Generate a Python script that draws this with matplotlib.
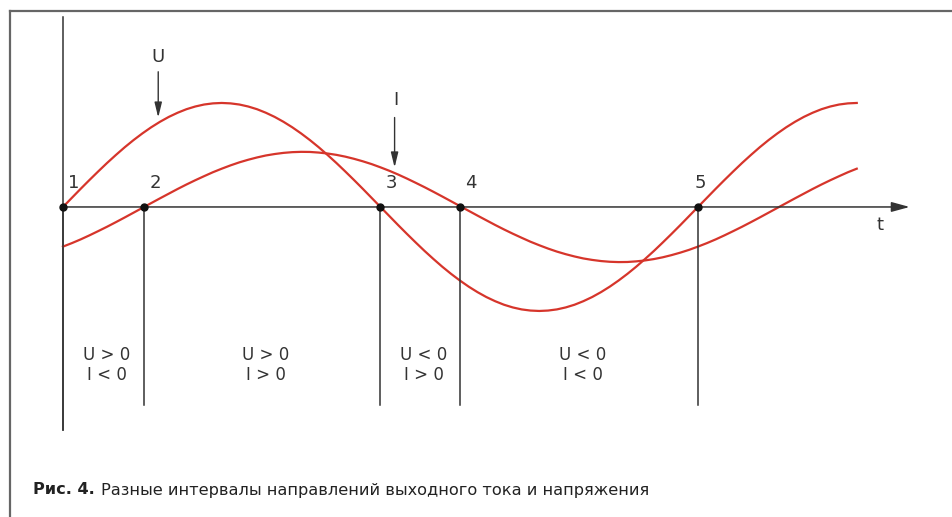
import matplotlib
matplotlib.use("Agg")
import matplotlib.pyplot as plt
from matplotlib.lines import Line2D

# phase angle, degrees (t axis)
t_deg = list(range(0, 451, 5))
# voltage U (amplitude ~1)
u_vals = [0.000, 0.087, 0.174, 0.259, 0.342, 0.423, 0.500, 0.574, 0.643, 0.707,
          0.766, 0.819, 0.866, 0.906, 0.940, 0.966, 0.985, 0.996, 1.000, 0.996,
          0.985, 0.966, 0.940, 0.906, 0.866, 0.819, 0.766, 0.707, 0.643, 0.574,
          0.500, 0.423, 0.342, 0.259, 0.174, 0.087,
          0.000, -0.087, -0.174, -0.259, -0.342, -0.423, -0.500, -0.574, -0.643, -0.707,
          -0.766, -0.819, -0.866, -0.906, -0.940, -0.966, -0.985, -0.996, -1.000, -0.996,
          -0.985, -0.966, -0.940, -0.906, -0.866, -0.819, -0.766, -0.707, -0.643, -0.574,
          -0.500, -0.423, -0.342, -0.259, -0.174, -0.087,
          0.000, 0.087, 0.174, 0.259, 0.342, 0.423, 0.500, 0.574, 0.643, 0.707,
          0.766, 0.819, 0.866, 0.906, 0.940, 0.966, 0.985, 0.996, 1.000]
# current I (lags U)
i_vals = [-0.381, -0.348, -0.312, -0.273, -0.232, -0.190, -0.146, -0.101, -0.055, -0.009,
          0.037, 0.083, 0.128, 0.173, 0.216, 0.257, 0.296, 0.334, 0.368, 0.400,
          0.429, 0.454, 0.476, 0.495, 0.509, 0.520, 0.527, 0.530, 0.529, 0.523,
          0.514, 0.501, 0.484, 0.463, 0.439, 0.412,
          0.381, 0.348, 0.312, 0.273, 0.232, 0.190, 0.146, 0.101, 0.055, 0.009,
          -0.037, -0.083, -0.128, -0.173, -0.216, -0.257, -0.296, -0.334, -0.368, -0.400,
          -0.429, -0.454, -0.476, -0.495, -0.509, -0.520, -0.527, -0.530, -0.529, -0.523,
          -0.514, -0.501, -0.484, -0.463, -0.439, -0.412,
          -0.381, -0.348, -0.312, -0.273, -0.232, -0.190, -0.146, -0.101, -0.055, -0.009,
          0.037, 0.083, 0.128, 0.173, 0.216, 0.257, 0.296, 0.334, 0.368]

# zero crossings 1..5
cross_t = [0, 46, 180, 225, 360]
cross_lbl = ["1", "2", "3", "4", "5"]
region_lbl = ["U > 0\nI < 0", "U > 0\nI > 0", "U < 0\nI > 0", "U < 0\nI < 0"]
caption_bold = "Рис. 4."
caption_text = "Разные интервалы направлений выходного тока и напряжения"

red = "#d6352b"
ink = "#333333"
fam = "DejaVu Sans"

fig = plt.figure(figsize=(9.52, 5.17), dpi=100)
ax = fig.add_axes([0, 0, 1, 1])
ax.set_xlim(-35.7, 504.0)
ax.set_ylim(-2.981, 1.990)
ax.axis("off")

# frame of the figure
fig.add_artist(Line2D([0.0105, 1.0], [0.979, 0.979], color="#666666", lw=1.6))
fig.add_artist(Line2D([0.0105, 0.0105], [0.0, 0.979], color="#666666", lw=1.6))

# axes
ax.plot([0, 0], [-2.14, 1.83], color=ink, lw=1.1)
ax.annotate("", xy=(480, 0), xytext=(0, 0),
            arrowprops=dict(arrowstyle="-|>,head_length=1.1,head_width=0.3",
                            color=ink, lw=1.1, shrinkA=0, shrinkB=0))
ax.text(463, -0.17, "t", ha="center", va="center", fontsize=13, color=ink, family=fam)

# curves
ax.plot(t_deg, u_vals, color=red, lw=1.6)
ax.plot(t_deg, i_vals, color=red, lw=1.6)

# crossing lines, dots and numbers
for k, (t, lab) in enumerate(zip(cross_t, cross_lbl)):
    bottom = -2.14 if k == 0 else -1.90
    ax.plot([t, t], [0, bottom], color=ink, lw=1.1)
    ax.plot(t, 0, "o", color="#111111", ms=5, zorder=5)
    dx = 8 if k < 4 else 2
    ax.annotate(lab, xy=(t, 0), xytext=(dx, 17), textcoords="offset points",
                ha="center", va="center", fontsize=13, color=ink, family=fam)

# interval labels
for a, b, lab in zip(cross_t[:-1], cross_t[1:], region_lbl):
    ax.text((a + b) / 2 + 2, -1.52, lab, ha="center", va="center",
            fontsize=12, color=ink, family=fam, linespacing=1.1)

# pointers U and I
ax.annotate("", xy=(54, 0.86), xytext=(54, 1.30),
            arrowprops=dict(arrowstyle="-|>,head_length=0.9,head_width=0.22",
                            color=ink, lw=1.0, shrinkA=0, shrinkB=0))
ax.text(54, 1.44, "U", ha="center", va="center", fontsize=13, color=ink, family=fam)
ax.annotate("", xy=(188, 0.38), xytext=(188, 0.86),
            arrowprops=dict(arrowstyle="-|>,head_length=0.9,head_width=0.22",
                            color=ink, lw=1.0, shrinkA=0, shrinkB=0))
ax.text(189, 1.03, "I", ha="center", va="center", fontsize=13, color=ink, family=fam)

# caption
t1 = fig.text(33 / 952, 1 - 490 / 517, caption_bold, fontsize=11.6, weight="bold",
              color="#222222", va="center", family=fam)
fig.canvas.draw()
bb = t1.get_window_extent()
fig.text((bb.x1 + 6) / 952, 1 - 490 / 517, caption_text, fontsize=11.6,
         color="#222222", va="center", family=fam)

fig.savefig("out.png", dpi=100)
